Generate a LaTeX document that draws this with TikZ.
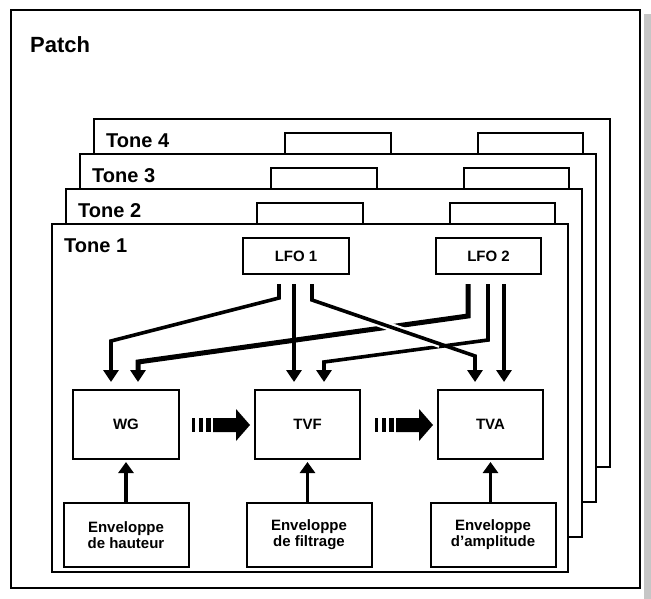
\documentclass[tikz,border=0pt]{standalone}
\usepackage{fontspec}
\setmainfont{Liberation Sans}
\usetikzlibrary{arrows.meta}
\begin{document}
\begin{tikzpicture}[x=1pt,y=-1pt,
  frame/.style={draw,line width=2pt,fill=white},
  box/.style={draw,line width=2pt,fill=white,inner sep=0pt,font=\bfseries\fontsize{15}{16}\selectfont,align=center},
  lab/.style={font=\bfseries\fontsize{20}{22}\selectfont,anchor=west,inner sep=0pt},
  lfo/.style={line width=3.6pt,-{Triangle[length=12pt,width=15pt]}},
  up/.style={line width=3.6pt,-{Triangle[length=11pt,width=15pt]}}]
\useasboundingbox (0,0) rectangle (651,599);
\fill[gray!45] (644,14) rectangle (651,599);
\draw[frame] (11,10) rectangle (640,588);
\node[font=\bfseries\fontsize{22}{24}\selectfont,anchor=west,inner sep=0pt] (patch) at (30,45) {Patch};
\foreach \i/\n in {3/4,2/3,1/2}{
  \draw[frame] ({52+14*\i},{224-35*\i}) rectangle ({568+14*\i},{572-35*\i});
  \draw[frame] ({243+14*\i},{238-35*\i}) rectangle ({349+14*\i},{259-35*\i});
  \draw[frame] ({436+14*\i},{238-35*\i}) rectangle ({541+14*\i},{259-35*\i});
  \node[lab] (t\n) at ({64+14*\i},{246-35*\i}) {Tone \n};
}
\draw[frame] (52,224) rectangle (568,572);
\node[lab] (t1) at (64,246) {Tone 1};
\node[box,minimum width=106pt,minimum height=36pt] (lfo1) at (296,256) {LFO 1};
\node[box,minimum width=105pt,minimum height=36pt] (lfo2) at (488.5,256) {LFO 2};
\node[box,minimum width=106pt,minimum height=69pt] (wg) at (126,424.5) {WG};
\node[box,minimum width=105pt,minimum height=69pt] (tvf) at (307.5,424.5) {TVF};
\node[box,minimum width=105pt,minimum height=69pt] (tva) at (490.5,424.5) {TVA};
\node[box,minimum width=125pt,minimum height=64pt] (e1) at (126,535) {Enveloppe\\de hauteur};
\node[box,minimum width=125pt,minimum height=64pt] (e2) at (309,535) {Enveloppe\\de filtrage};
\node[box,minimum width=125pt,minimum height=64pt] (e3) at (493,535) {Enveloppe\\d’amplitude};
\coordinate (a0) at (279,284); \coordinate (aw) at (111,382);
\coordinate (b0) at (294,284); \coordinate (bw) at (294,382);
\coordinate (c0) at (312,284); \coordinate (cw) at (475,382);
\coordinate (d0) at (468,284); \coordinate (dw) at (138,382);
\coordinate (e0) at (488,284); \coordinate (ew) at (324,382);
\coordinate (f0) at (504,284); \coordinate (fw) at (504,382);
\draw[lfo,line join=miter] (a0) -- (279,298) -- (111,341) -- (aw);
\draw[lfo] (b0) -- (bw);
\draw[lfo,line width=5pt,line join=miter] (d0) -- (468,316) -- (138,362) -- (dw);
\draw[lfo,line join=miter] (e0) -- (488,340) -- (324,362) -- (ew);
\draw[lfo] (f0) -- (fw);
\draw[white,line width=8pt] (330,306) -- (440,344);
\draw[lfo,line join=miter] (c0) -- (312,300) -- (475,356) -- (cw);
\draw[up] (e1.north) -- ([yshift=-2pt]wg.south);
\draw[up] (e2.north -| tvf.south) -- ([yshift=-2pt]tvf.south);
\draw[up] (e3.north -| tva.south) -- ([yshift=-2pt]tva.south);
\foreach \x in {192,375}{
  \fill (\x,418) rectangle (\x+2.5,432);
  \fill (\x+7,418) rectangle (\x+10.5,432);
  \fill (\x+14,418) rectangle (\x+19,432);
  \fill (\x+21,418) -- (\x+44,418) -- (\x+44,409) -- (\x+58,425) -- (\x+44,441) -- (\x+44,432) -- (\x+21,432) -- cycle;
}
\end{tikzpicture}
\end{document}
